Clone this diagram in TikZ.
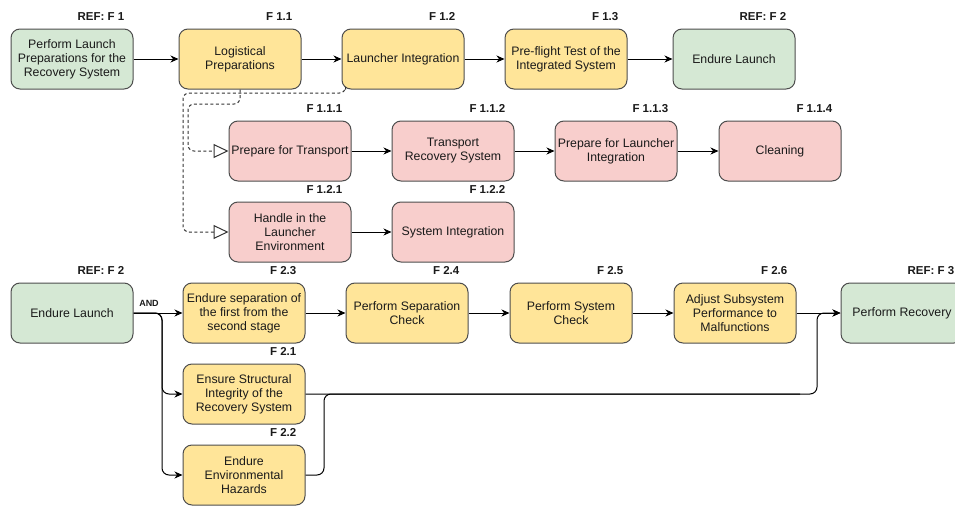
\documentclass[tikz,border=0pt]{standalone}
\usepackage{fontspec}
\setmainfont{Liberation Sans}
\usetikzlibrary{arrows.meta,calc}

\definecolor{refgreen}{HTML}{D5E8D4}
\definecolor{funyellow}{HTML}{FFE599}
\definecolor{subpink}{HTML}{F8CECC}
\definecolor{boxline}{HTML}{4D4D4D}
\definecolor{inkcol}{HTML}{1A1A1A}
\definecolor{dashcol}{HTML}{333333}

% tag above the top right corner of a box
\newcommand\boxtag[2]{\node[tag] (#1-tag) at ([shift={(-9,-8)}]#1.north east) {#2};}

\begin{document}
\begin{tikzpicture}[x=1pt,y=-1pt,
  box/.style={draw=boxline, line width=1pt, rounded corners=9pt,
    minimum width=122pt, minimum height=60pt, inner sep=2pt,
    align=center, text=inkcol, font=\fontsize{12.3}{14}\selectfont},
  refbox/.style={box, fill=refgreen},
  funbox/.style={box, fill=funyellow},
  subbox/.style={box, fill=subpink},
  tag/.style={anchor=base east, inner sep=0pt, text=inkcol,
    font=\bfseries\fontsize{11.5}{13}\selectfont},
  flow/.style={draw=black, line width=1pt,
    -{Stealth[length=8pt,width=7pt,inset=2.5pt]}},
  plain/.style={draw=black, line width=1pt},
  link/.style={draw=dashcol, line width=1pt, dash pattern=on 3pt off 2.5pt,
    rounded corners=6pt, -{Triangle[open,length=15pt,width=14pt]}},
]
\path[use as bounding box] (0,0) rectangle (955,506);
\clip (0,0) rectangle (955,506);

% launch preparation chain
\node[refbox] (F1)   at (72,59)  {Perform Launch\\Preparations for the\\Recovery System};
\node[funbox] (F11)  at (240,59) {Logistical\\Preparations};
\node[funbox] (F12)  at (403,59) {Launcher Integration};
\node[funbox] (F13)  at (566,59) {Pre-flight Test of the\\Integrated System};
\node[refbox] (F2t)  at (734,59) {Endure Launch};

% logistical preparations
\node[subbox] (F111) at (290,151) {Prepare for Transport};
\node[subbox] (F112) at (453,151) {Transport\\Recovery System};
\node[subbox] (F113) at (616,151) {Prepare for Launcher\\Integration};
\node[subbox] (F114) at (780,151) {Cleaning};

% launcher integration
\node[subbox] (F121) at (290,232) {Handle in the\\Launcher\\Environment};
\node[subbox] (F122) at (453,232) {System Integration};

% launch phase
\node[refbox] (F2b)  at (72,313)  {Endure Launch};
\node[funbox] (F23)  at (244,313) {Endure separation of\\the first from the\\second stage};
\node[funbox] (F24)  at (407,313) {Perform Separation\\Check};
\node[funbox] (F25)  at (571,313) {Perform System\\Check};
\node[funbox] (F26)  at (735,313) {Adjust Subsystem\\Performance to\\Malfunctions};
\node[refbox] (F3)   at (902,313) {Perform Recovery};
\node[funbox] (F21)  at (244,394) {Ensure Structural\\Integrity of the\\Recovery System};
\node[funbox] (F22)  at (244,475) {Endure\\Environmental\\Hazards};

% tags
\boxtag{F1}{REF: F 1}
\boxtag{F11}{F 1.1}
\boxtag{F12}{F 1.2}
\boxtag{F13}{F 1.3}
\boxtag{F2t}{REF: F 2}
\boxtag{F111}{F 1.1.1}
\boxtag{F112}{F 1.1.2}
\boxtag{F113}{F 1.1.3}
\boxtag{F114}{F 1.1.4}
\boxtag{F121}{F 1.2.1}
\boxtag{F122}{F 1.2.2}
\boxtag{F2b}{REF: F 2}
\boxtag{F23}{F 2.3}
\boxtag{F24}{F 2.4}
\boxtag{F25}{F 2.5}
\boxtag{F26}{F 2.6}
\boxtag{F3}{REF: F 3}
\boxtag{F21}{F 2.1}
\boxtag{F22}{F 2.2}

% sequence arrows
\draw[flow] (F1) -- (F11);
\draw[flow] (F11) -- (F12);
\draw[flow] (F12) -- (F13);
\draw[flow] (F13) -- (F2t);
\draw[flow] (F111) -- (F112);
\draw[flow] (F112) -- (F113);
\draw[flow] (F113) -- (F114);
\draw[flow] (F121) -- (F122);
\draw[flow] (F23) -- (F24);
\draw[flow] (F24) -- (F25);
\draw[flow] (F25) -- (F26);
\draw[flow] (F26) -- (F3);

% decomposition links
\coordinate (inA) at (240,104);
\coordinate (inB) at (188,104);
\draw[link] (F11.south) -- (inA) -- (inB) |- (F111.west);
\coordinate (outA) at ([xshift=4pt]F12.south west);
\coordinate (outB) at (183,93);
\draw[link] (outA) |- (outB) |- (F121.west);

% AND split
\coordinate (split) at (162,313);
\node[inner sep=0pt, anchor=base, text=inkcol, font=\bfseries\fontsize{9}{10}\selectfont] (andtag) at (149,306) {AND};
\draw[flow] (F2b) -- (F23);
\draw[flow, rounded corners=7pt] (F2b.east) -- (split) |- (F21.west);
\draw[flow, rounded corners=7pt] (F2b.east) -- (split) |- (F22.west);

% merge into recovery
\coordinate (merge) at (324,394);
\coordinate (join) at (817,394);
\coordinate (joinin) at (800,394);
\draw[flow, rounded corners=7pt] (F21.east) -- (join) |- (F3.west);
\draw[plain, rounded corners=7pt] (F22.east) -| (merge) -- (joinin);
\end{tikzpicture}
\end{document}
